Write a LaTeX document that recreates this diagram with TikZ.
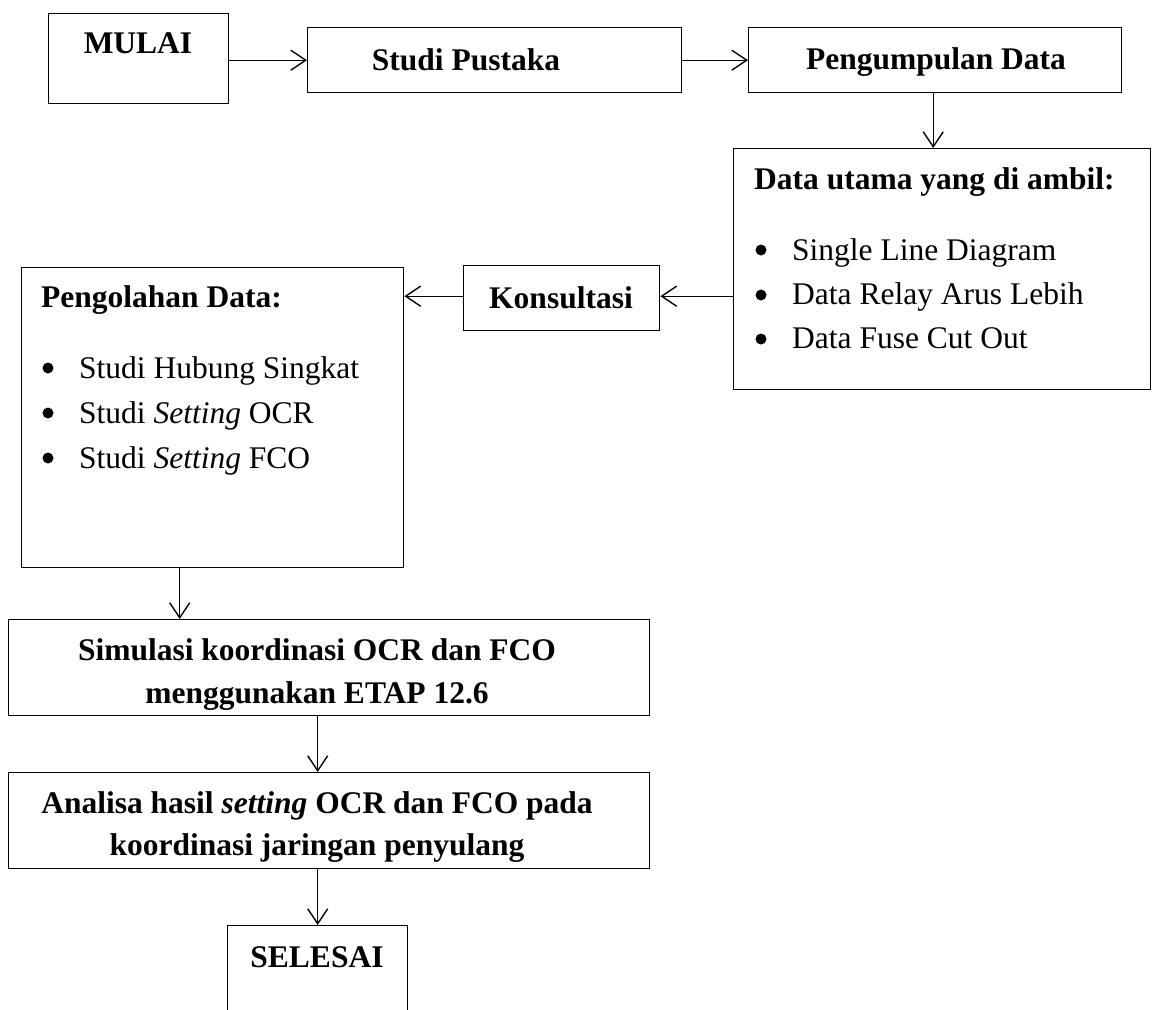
\documentclass[tikz,border=0pt]{standalone}
\usepackage{fontspec}
\setmainfont{Liberation Serif}
\usetikzlibrary{arrows.meta}
\begin{document}
\begin{tikzpicture}[x=1pt,y=-1pt,
  box/.style={draw, line width=1.4pt, inner sep=0pt, anchor=north west},
  hd/.style={font=\fontsize{31.5}{36}\selectfont\bfseries, inner sep=0pt},
  itm/.style={font=\fontsize{31.5}{36}\selectfont, inner sep=0pt, anchor=base west},
  bul/.style={circle, fill=black, inner sep=0pt, minimum size=11pt},
  arr/.style={line width=1.4pt, -{Straight Barb[length=15pt,width=20pt,line width=1.4pt]}}]
\useasboundingbox (0,0) rectangle (1152,1010);
% boxes
\node[box, minimum width=180pt, minimum height=90pt] (mulai) at (48,13) {};
\node[box, minimum width=374pt, minimum height=65pt] (pustaka) at (307,27) {};
\node[box, minimum width=373pt, minimum height=65pt] (kumpul) at (748,27) {};
\node[box, minimum width=417pt, minimum height=241pt] (utama) at (733,148) {};
\node[box, minimum width=196pt, minimum height=65pt] (konsul) at (463,265) {};
\node[box, minimum width=382pt, minimum height=300pt] (olah) at (21,267) {};
\node[box, minimum width=641pt, minimum height=96pt] (sim) at (8,619) {};
\node[box, minimum width=641pt, minimum height=96pt] (ana) at (8,772) {};
\node[box, minimum width=180pt, minimum height=130pt] (selesai) at (227,925) {};
% texts
\node[hd, anchor=base] (tmulai) at (138,53) {MULAI};
\node[hd, anchor=base] (tpustaka) at (466,70) {Studi Pustaka};
\node[hd, anchor=base] (tkumpul) at (936,69) {Pengumpulan Data};
\node[hd, anchor=base west] (tutama) at (754,189) {Data utama yang di ambil:};
\node[bul] (b1) at (761,250) {};
\node[itm] (u1) at (792,260) {Single Line Diagram};
\node[bul] (b2) at (761,295) {};
\node[itm] (u2) at (792,304) {Data Relay Arus Lebih};
\node[bul] (b3) at (761,339) {};
\node[itm] (u3) at (792,348) {Data Fuse Cut Out};
\node[hd, anchor=base] (tkonsul) at (561,308) {Konsultasi};
\node[hd, anchor=base west] (tolah) at (41,307) {Pengolahan Data:};
\node[bul] (c1) at (48,368) {};
\node[itm] (o1) at (79,378) {Studi Hubung Singkat};
\node[bul] (c2) at (48,413) {};
\node[itm] (o2) at (79,423) {Studi \textit{Setting} OCR};
\node[bul] (c3) at (48,458) {};
\node[itm] (o3) at (79,468) {Studi \textit{Setting} FCO};
\node[hd, anchor=base] (tsim1) at (317,660) {Simulasi koordinasi OCR dan FCO};
\node[hd, anchor=base] (tsim2) at (317,703) {menggunakan ETAP 12.6};
\node[hd, anchor=base] (tana1) at (317,813) {Analisa hasil \textit{setting} OCR dan FCO pada};
\node[hd, anchor=base] (tana2) at (317,855) {koordinasi jaringan penyulang};
\node[hd, anchor=base] (tselesai) at (317,967) {SELESAI};
% connectors
\coordinate (p0) at (mulai.east |- pustaka.west);
\draw[arr] (p0) -- (pustaka.west);
\draw[arr] (pustaka.east) -- (kumpul.west);
\coordinate (p1) at ([xshift=-2pt]kumpul.south);
\draw[arr] (p1) -- (p1 |- utama.north);
\coordinate (p2) at ([yshift=2pt]konsul.east);
\draw[arr] (p2 -| utama.west) -- (p2);
\coordinate (p3) at ([yshift=2pt]konsul.west);
\draw[arr] (p3) -- (p3 -| olah.east);
\coordinate (p4) at ([xshift=-33pt]olah.south);
\draw[arr] (p4) -- (p4 |- sim.north);
\draw[arr] (selesai.north |- sim.south) -- (selesai.north |- ana.north);
\draw[arr] (selesai.north |- ana.south) -- (selesai.north);
\end{tikzpicture}
\end{document}
